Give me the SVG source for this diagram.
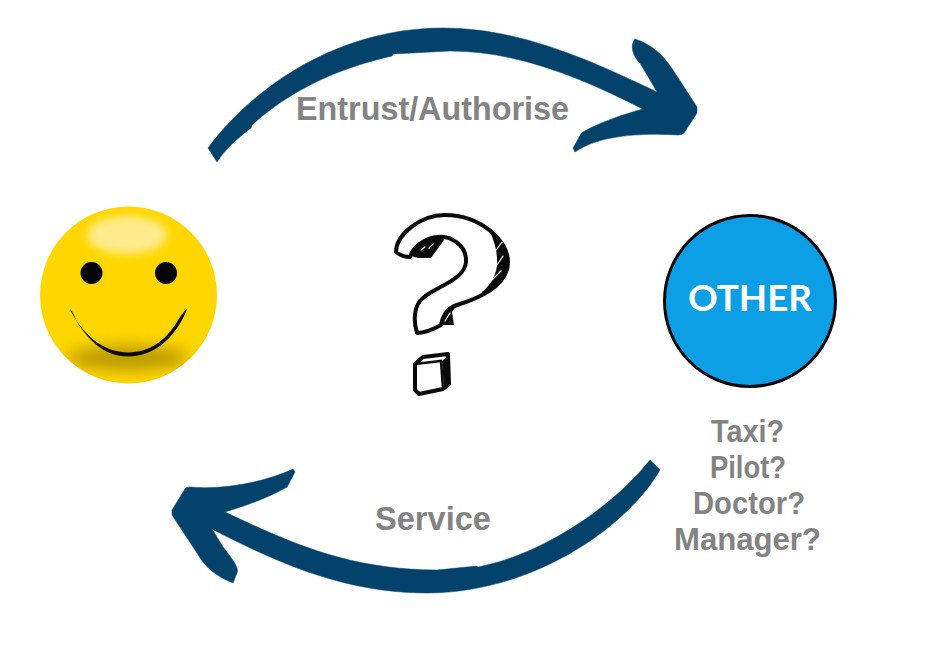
<svg xmlns="http://www.w3.org/2000/svg" width="936" height="651" viewBox="0 0 936 651">
<style>
.arrow{fill:#03426b;stroke:#03426b;stroke-width:.5;stroke-linejoin:round}
.hand{fill:#838383;font-family:"Liberation Sans",Arial,sans-serif;font-weight:700}
.ink{fill:none;stroke:#fff;stroke-linecap:round}
.inkf{fill:#0a0a0a}
</style>
<defs>
<clipPath id="face"><circle cx="128.500" cy="295" r="88.500"/></clipPath>
<filter id="b8" x="-50%" y="-100%" width="200%" height="300%"><feGaussianBlur stdDeviation="8"/></filter>
<filter id="b4" x="-50%" y="-50%" width="200%" height="200%"><feGaussianBlur stdDeviation="4"/></filter>
</defs>
<rect width="936" height="651" fill="#fff"/>
<g id="connectors">
<path class="arrow" d="M217 162L208 148C255 85 340 28 443 28C520 28 590 60 657 92L640 63C632 56 630 44 635 39C650 44 662 53 673 70L697 107L697 113L684 133Q682 135 678 135C640 133 600 135 575 152L573 148C578 140 580 134 583 132C600 122 625 114 643 109C585 80 520 51 450 51L393 54L392 56C330 70 285 95 252 125L251 128C235 140 225 150 217 162Z"/>
<path class="arrow" d="M650 460L660 470C625 530 530 593 427 593C350 593 285 567 212 529L223 547C230 556 240 568 237 573L233 583C218 577 205 568 197 553L172 515L172 510L185 489Q186 487 190 487C225 490 265 482 293 469L295 472L287 487C270 497 245 506 225 512C290 543 350 570 437 570L477 566L478 567C540 555 610 510 650 460Z"/>
</g>
<g id="you">
<circle cx="128.500" cy="295" r="88.500" fill="#fed700"/>
<g clip-path="url(#face)">
<ellipse cx="128" cy="358" rx="62" ry="12" fill="#b89800" filter="url(#b8)"/>
<ellipse cx="127" cy="235" rx="40" ry="19" fill="#ffeb8c" filter="url(#b4)"/>
</g>
<circle cx="91.500" cy="273" r="11" fill="#050505"/>
<circle cx="166" cy="273" r="11" fill="#050505"/>
<path d="M70 309C85 340 105 356.500 128 356.500C152 356.500 175 340 187 309C183 312 180 317 177 322C165 341 150 352 128 352.500C107 352 90 341 76 320C74 315 73 312 70 309Z" fill="#0a0a0a"/>
</g>
<g id="question">
<path d="M396 252C396 235 420 215 445 215C480 215 508 240 508 262C508 285 480 298 457 305C447 308 443 315 441 325C432 330 425 333 417 333C413 320 414 305 423 298C435 287 465 280 466 262C467 245 450 235 437 237C425 238 413 247 410 257C404 257 400 255 396 252Z" fill="#fff" stroke="#0a0a0a" stroke-width="4" stroke-linejoin="round"/>
<path class="inkf" d="M411 256C414 248 424 239 438 237C442 237 443 238 444 240L431 258L418 258Z"/>
<path class="inkf" d="M489 230C500 240 508 250 508 262C508 285 490 292 480 297L482 292C492 284 498 272 497 260C497 250 494 240 489 230Z"/>
<path class="inkf" d="M441 325C443 315 447 308 457 305L452 312L454 325Z"/>
<path class="ink" stroke-width="1.200" d="M494 253L502 242M495 268L503 256M487 285L501 271M445 321L450 313M421 250L425 247M429 248L433 244"/>
<path d="M415 364L423 357L448 354L449 384L443 389L419 394L415 390Z" fill="#fff" stroke="#0a0a0a" stroke-width="4" stroke-linejoin="round"/>
<path class="inkf" d="M442 361L449 355L449 385L444 388Z"/>
<path d="M415 364L441 361L443 389" fill="none" stroke="#0a0a0a" stroke-width="2.500"/>
</g>
<g id="other">
<circle cx="750" cy="301" r="85.500" fill="#0c9fe6" stroke="#050505" stroke-width="3"/>
<text x="688" y="311" font-family="Lato,'Open Sans',sans-serif" font-size="36" font-weight="700" fill="#fff" textLength="124" lengthAdjust="spacingAndGlyphs">OTHER</text>
</g>
<g id="labels">
<text class="hand" x="296" y="120" font-size="33" textLength="273" lengthAdjust="spacingAndGlyphs">Entrust/Authorise</text>
<text class="hand" x="375" y="530" font-size="33" textLength="116" lengthAdjust="spacingAndGlyphs">Service</text>
<text class="hand" x="711" y="442" font-size="31" textLength="73" lengthAdjust="spacingAndGlyphs">Taxi?</text>
<text class="hand" x="710" y="478" font-size="31" textLength="76" lengthAdjust="spacingAndGlyphs">Pilot?</text>
<text class="hand" x="693" y="514" font-size="31" textLength="112" lengthAdjust="spacingAndGlyphs">Doctor?</text>
<text class="hand" x="674" y="550" font-size="31" textLength="147" lengthAdjust="spacingAndGlyphs">Manager?</text>
</g>
</svg>
